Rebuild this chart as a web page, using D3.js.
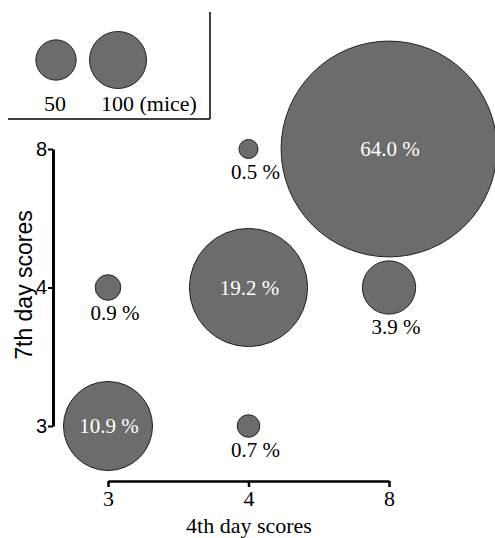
<!DOCTYPE html>
<html>
<head>
<meta charset="utf-8">
<script src="https://cdn.jsdelivr.net/npm/d3@7"></script>
<style>
  body { margin: 0; background: #fff; }
  .serif { font-family: "Liberation Serif", "DejaVu Serif", serif; }
  .sans { font-family: "Liberation Sans", Arial, sans-serif; }
</style>
</head>
<body>
<div id="chart"></div>
<script>
// scores on day 4 (x) and day 7 (y), share of mice in each cell
const scoreLevels = ["3", "4", "8"];
const day4 = ["3", "4", "3", "4", "8", "4", "8"];
const day7 = ["3", "3", "4", "4", "4", "8", "8"];
const percents = [10.9, 0.7, 0.9, 19.2, 3.9, 0.5, 64.0];
const totalMice = 2240;
const legendMice = [50, 100];

const W = 495, H = 538;
const fill = "#6c6c6c";

const svg = d3.select("#chart").append("svg")
  .attr("width", W).attr("height", H);

const x = d3.scalePoint().domain(scoreLevels).range([108, 389]);
const y = d3.scalePoint().domain(scoreLevels).range([426, 149]);
// area proportional to number of mice
const r = d3.scaleSqrt().domain([0, 100]).range([0, 28.5]);

// legend
const legX = d3.scalePoint().domain(legendMice).range([56, 118]);
svg.append("line").attr("x1", 210).attr("x2", 210).attr("y1", 12).attr("y2", 119)
  .attr("stroke", "#000").attr("stroke-width", 1.5);
svg.append("line").attr("x1", 8).attr("x2", 210).attr("y1", 119).attr("y2", 119)
  .attr("stroke", "#000").attr("stroke-width", 1.5);
svg.selectAll("circle.leg").data(legendMice).enter().append("circle")
  .attr("class", "leg")
  .attr("cx", d => legX(d))
  .attr("cy", 60)
  .attr("r", d => r(d))
  .attr("fill", fill).attr("stroke", "#222").attr("stroke-width", 1);
svg.append("text").attr("class", "serif").attr("x", 55).attr("y", 111)
  .attr("text-anchor", "middle").attr("font-size", 22).text("50");
svg.append("text").attr("class", "serif").attr("x", 101).attr("y", 111)
  .attr("text-anchor", "start").attr("font-size", 22).text("100 (mice)");

// axes
const xAxis = svg.append("g").attr("transform", "translate(0,481)")
  .call(d3.axisBottom(x).tickSize(6).tickSizeOuter(0).tickPadding(3));
xAxis.select(".domain").attr("stroke-width", 2.5);
xAxis.selectAll(".tick line").attr("stroke-width", 2.5);
xAxis.selectAll("text").attr("class", "serif").attr("font-size", 22).attr("fill", "#000");

const yAxis = svg.append("g").attr("transform", "translate(53,0)")
  .call(d3.axisLeft(y).tickSize(5).tickSizeOuter(0).tickPadding(1));
yAxis.select(".domain").attr("stroke-width", 3);
yAxis.selectAll(".tick line").attr("stroke-width", 2);
yAxis.selectAll("text").attr("class", "sans").attr("font-size", 20).attr("fill", "#000");

svg.append("text").attr("class", "serif").attr("x", 249).attr("y", 533)
  .attr("text-anchor", "middle").attr("font-size", 22).text("4th day scores");
svg.append("text").attr("class", "sans").attr("transform", "translate(32,285) rotate(-90)")
  .attr("text-anchor", "middle").attr("font-size", 23).text("7th day scores");

// bubbles
const cells = percents.map((p, i) => ({ p: p, sx: day4[i], sy: day7[i], rad: r(p / 100 * totalMice) }));

svg.selectAll("circle.cell").data(cells).enter().append("circle")
  .attr("class", "cell")
  .attr("cx", d => x(d.sx))
  .attr("cy", d => y(d.sy))
  .attr("r", d => d.rad)
  .attr("fill", fill).attr("stroke", "#222").attr("stroke-width", 1);

svg.selectAll("text.pct").data(cells).enter().append("text")
  .attr("class", "pct serif")
  .attr("x", d => x(d.sx) + (d.rad > 35 ? 1 : 7))
  .attr("y", d => d.rad > 35 ? y(d.sy) + 7 : y(d.sy) + d.rad + 20)
  .attr("text-anchor", "middle")
  .attr("font-size", 21)
  .attr("fill", d => d.rad > 35 ? "#fff" : "#000")
  .text(d => d.p.toFixed(1) + " %");
</script>
</body>
</html>
